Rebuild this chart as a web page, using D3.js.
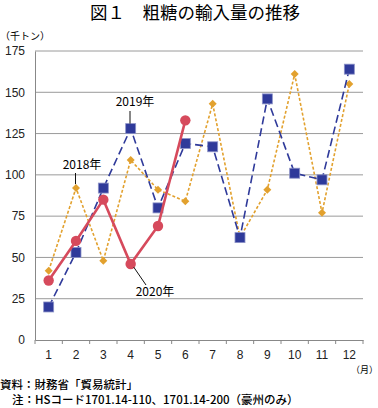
<!DOCTYPE html>
<html>
<head>
<meta charset="utf-8">
<script src="https://cdn.jsdelivr.net/npm/d3@7"></script>
<style>
  body { margin: 0; background: #fff; }
  svg { display: block; font-family: "Noto Sans CJK JP", "Noto Sans", sans-serif; }
</style>
</head>
<body>
<div id="chart"></div>
<script>
var months = ["1", "2", "3", "4", "5", "6", "7", "8", "9", "10", "11", "12"];
var yTicks = [0, 25, 50, 75, 100, 125, 150, 175];
var y2018 = [42, 92, 48, 109, 91, 84, 143, 62, 91, 161, 77, 155];
var y2019 = [20, 53, 92, 128, 80, 119, 117, 62, 146, 101, 97, 164];
var y2020 = [36, 60, 85, 46, 69, 133];

const width = 378, height = 408;
const plotL = 35, plotR = 363, plotT = 51, plotB = 340;

const svg = d3.select("#chart").append("svg")
    .attr("width", width)
    .attr("height", height);

const x = d3.scaleBand().domain(months).range([plotL, plotR]);
const y = d3.scaleLinear().domain([0, 175]).range([plotB, plotT]);
const cx = function(d, i) { return x(months[i]) + x.bandwidth() / 2; };

// title
svg.append("text")
    .attr("x", 195).attr("y", 19)
    .attr("text-anchor", "middle")
    .style("font-size", "17.5px").style("font-weight", "normal")
    .text("図１　粗糖の輸入量の推移");

svg.append("text")
    .attr("x", 0).attr("y", 40)
    .style("font-size", "10px")
    .text("（千トン）");

// gridlines
svg.append("g").selectAll("line")
    .data(yTicks.filter(function(t) { return t > 0; }))
    .join("line")
    .attr("x1", plotL).attr("x2", plotR)
    .attr("y1", function(d) { return y(d); }).attr("y2", function(d) { return y(d); })
    .attr("stroke", "#9a9a9a").attr("stroke-width", 1);

// y axis
const yAxis = svg.append("g")
    .attr("transform", "translate(" + plotL + ",0)")
    .call(d3.axisLeft(y).tickValues(yTicks).tickSize(0).tickPadding(10));
yAxis.select(".domain").attr("stroke", "#888");
yAxis.selectAll("text").style("font-size", "12px").style("font-family", "Liberation Sans, Arial, sans-serif").attr("fill", "#222");

// x axis
const xAxis = svg.append("g")
    .attr("transform", "translate(0," + plotB + ")")
    .call(d3.axisBottom(x).tickSize(0).tickPadding(10));
xAxis.select(".domain").attr("stroke", "#888");
xAxis.selectAll("text").style("font-size", "12px").style("font-family", "Liberation Sans, Arial, sans-serif").attr("fill", "#222");
xAxis.selectAll(".bt").data(d3.range(months.length + 1)).join("line")
    .attr("x1", function(i) { return plotL + i * x.step(); })
    .attr("x2", function(i) { return plotL + i * x.step(); })
    .attr("y1", 0).attr("y2", 4)
    .attr("stroke", "#888");

svg.append("text")
    .attr("x", 378).attr("y", 373)
    .attr("text-anchor", "end")
    .style("font-size", "9px")
    .text("（月）");

const line = d3.line().x(cx).y(function(d) { return y(d); });

// 2018
svg.append("path").datum(y2018)
    .attr("d", line).attr("fill", "none")
    .attr("stroke", "#e2a12e").attr("stroke-width", 1.6)
    .attr("stroke-dasharray", "3,2");
svg.append("g").selectAll("path").data(y2018).join("path")
    .attr("transform", function(d, i) { return "translate(" + cx(d, i) + "," + y(d) + ")"; })
    .attr("d", "M0,-4L4,0L0,4L-4,0Z")
    .attr("fill", "#e2a12e");

// 2019
svg.append("path").datum(y2019)
    .attr("d", line).attr("fill", "none")
    .attr("stroke", "#2f3a9a").attr("stroke-width", 1.6)
    .attr("stroke-dasharray", "8,4");
svg.append("g").selectAll("rect").data(y2019).join("rect")
    .attr("x", function(d, i) { return cx(d, i) - 5; })
    .attr("y", function(d) { return y(d) - 5; })
    .attr("width", 10).attr("height", 10)
    .attr("fill", "#2f3a9a").attr("stroke", "#8d93c8").attr("stroke-width", 0.8);

// 2020
svg.append("path").datum(y2020)
    .attr("d", line).attr("fill", "none")
    .attr("stroke", "#d64a5c").attr("stroke-width", 2.6);
svg.append("g").selectAll("circle").data(y2020).join("circle")
    .attr("cx", cx)
    .attr("cy", function(d) { return y(d); })
    .attr("r", 5.2)
    .attr("fill", "#d64a5c");

// series labels with leader lines
function label(text, tx, ty, x1, y1, x2, y2) {
    svg.append("line")
        .attr("x1", x1).attr("y1", y1).attr("x2", x2).attr("y2", y2)
        .attr("stroke", "#111").attr("stroke-width", 1);
    svg.append("text")
        .attr("x", tx).attr("y", ty)
        .attr("text-anchor", "middle")
        .style("font-size", "12px")
        .text(text);
}
label("2019年", 135, 106, 130, 111, 130, y(128) - 5);
label("2018年", 82, 169, 75.5, 173, 75.5, y(92) - 4);
label("2020年", 155, 296, cx(0, 3) + 3, y(46) + 3, 146, 285);

// footer
svg.append("text")
    .attr("x", 0).attr("y", 389)
    .style("font-size", "11.5px").style("font-weight", "500")
    .text("資料：財務省「貿易統計」");
svg.append("text")
    .attr("x", 12).attr("y", 404)
    .style("font-size", "11.5px").style("font-weight", "500")
    .text("注：HSコード1701.14-110、1701.14-200（豪州のみ）");
</script>
</body>
</html>
